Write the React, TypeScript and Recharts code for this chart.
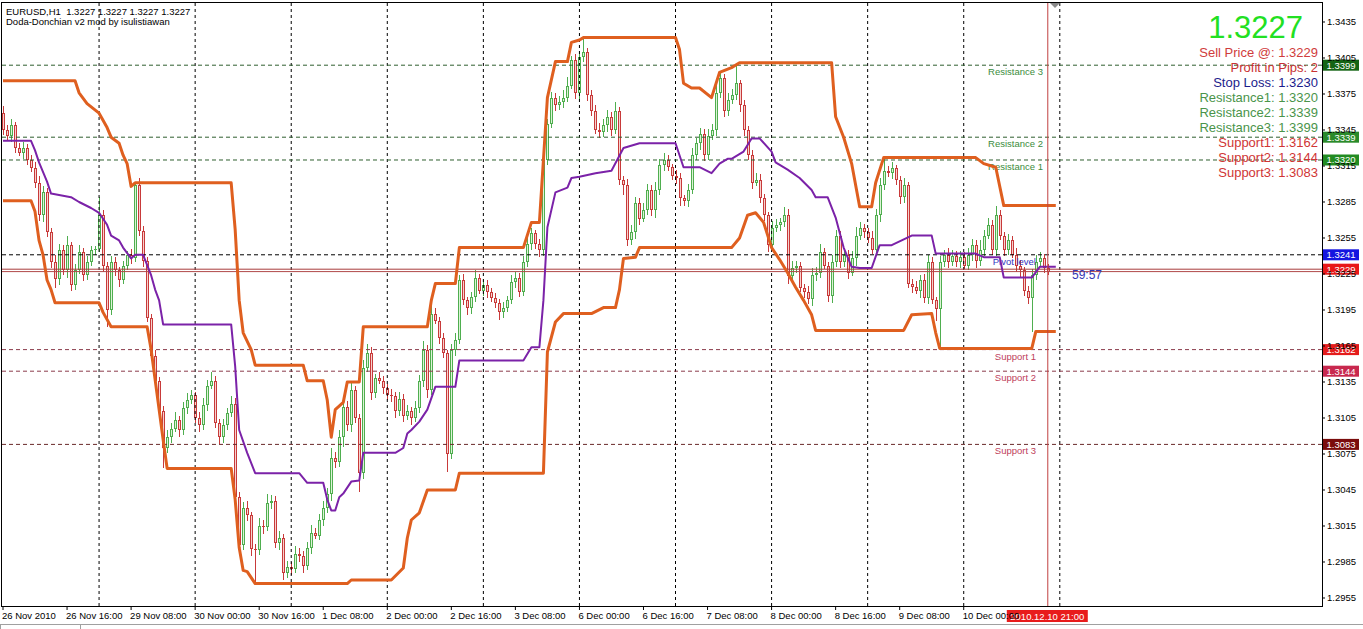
import React from "react";
import { ComposedChart, Bar, Line, XAxis, YAxis, ReferenceLine } from "recharts";

// EURUSD H1, prices in pips (3345 => 1.3345); open of each bar = previous close
const OPEN_FIRST = 3359;
const CLOSES = [
  3345, 3340, 3349, 3330, 3326, 3330, 3320, 3313, 3301, 3274,
  3293, 3260, 3235, 3221, 3245, 3228, 3249, 3216, 3228, 3243,
  3224, 3235, 3245, 3246, 3274, 3232, 3195, 3235, 3228, 3220,
  3232, 3241, 3238, 3299, 3261, 3236, 3188, 3157, 3136, 3111,
  3080, 3089, 3096, 3103, 3095, 3113, 3120, 3124, 3105, 3099,
  3116, 3132, 3136, 3101, 3089, 3099, 3109, 3117, 3039, 2999,
  3030, 3024, 2996, 2995, 3015, 3014, 3034, 3036, 3001, 3005,
  2976, 2981, 2979, 2992, 2990, 2982, 2997, 3009, 3007, 3020,
  3030, 3042, 3072, 3068, 3089, 3114, 3099, 3128, 3105, 3059,
  3147, 3159, 3126, 3138, 3136, 3130, 3124, 3123, 3111, 3121,
  3107, 3111, 3105, 3113, 3136, 3162, 3128, 3192, 3186, 3172,
  3159, 3075, 3162, 3170, 3220, 3203, 3197, 3206, 3222, 3211,
  3216, 3210, 3205, 3201, 3193, 3197, 3203, 3218, 3222, 3210,
  3235, 3250, 3259, 3250, 3245, 3320, 3350, 3372, 3366, 3368,
  3372, 3382, 3403, 3376, 3406, 3410, 3374, 3361, 3345, 3343,
  3349, 3356, 3345, 3361, 3303, 3299, 3253, 3260, 3284, 3271,
  3278, 3295, 3278, 3295, 3316, 3320, 3314, 3307, 3305, 3288,
  3286, 3295, 3324, 3334, 3342, 3324, 3340, 3345, 3376, 3388,
  3361, 3370, 3374, 3384, 3366, 3345, 3324, 3301, 3303, 3288,
  3274, 3249, 3263, 3266, 3268, 3274, 3223, 3230, 3232, 3213,
  3210, 3204, 3224, 3226, 3243, 3232, 3207, 3235, 3257, 3235,
  3241, 3226, 3238, 3257, 3263, 3260, 3255, 3245, 3274, 3299,
  3311, 3309, 3313, 3303, 3289, 3299, 3217, 3214, 3211, 3220,
  3205, 3235, 3203, 3196, 3235, 3241, 3235, 3240, 3235, 3239,
  3232, 3241, 3249, 3236, 3245, 3257, 3266, 3245, 3274, 3257,
  3245, 3253, 3241, 3232, 3228, 3211, 3205, 3224, 3235, 3238,
  3230, 3227,
];
// wick lengths in pips above the body / below the body
const WICK_UP = [
  6, 4, 5, 3, 4, 5, 3, 4, 5, 6, 5, 4, 3, 6, 5, 4, 8, 3, 5, 6,
  4, 5, 3, 2, 15, 4, 3, 5, 4, 3, 4, 3, 5, 2, 6, 4, 3, 4, 5, 3,
  4, 6, 5, 7, 4, 5, 6, 4, 3, 5, 6, 5, 7, 4, 3, 5, 4, 6, 5, 4,
  5, 6, 3, 4, 7, 5, 8, 5, 4, 6, 3, 5, 4, 6, 5, 4, 5, 7, 4, 5,
  6, 5, 8, 5, 6, 7, 5, 8, 4, 3, 6, 8, 5, 4, 5, 4, 3, 5, 4, 6,
  4, 5, 3, 6, 5, 7, 4, 6, 5, 3, 4, 3, 5, 6, 4, 5, 3, 4, 6, 3,
  5, 4, 3, 4, 3, 5, 4, 6, 5, 4, 5, 6, 4, 3, 4, 3, 4, 5, 4, 5,
  6, 7, 4, 5, 5, 12, 3, 4, 5, 6, 5, 6, 4, 7, 3, 4, 5, 6, 5, 4,
  6, 5, 4, 7, 5, 6, 4, 3, 5, 4, 3, 5, 6, 4, 5, 4, 6, 5, 8, 5,
  4, 6, 5, 17, 3, 4, 3, 4, 6, 5, 4, 3, 6, 5, 4, 7, 5, 6, 4, 3,
  4, 5, 6, 5, 7, 4, 3, 6, 5, 4, 5, 4, 6, 7, 5, 4, 3, 6, 5, 6,
  11, 4, 5, 3, 4, 6, 3, 4, 5, 4, 5, 6, 4, 3, 5, 4, 6, 5, 4, 5,
  4, 6, 5, 4, 8, 5, 6, 4, 8, 4, 3, 5, 4, 6, 5, 3, 4, 5, 6, 5,
  4, 3,
];
const WICK_DOWN = [
  4, 3, 5, 4, 3, 5, 4, 3, 4, 5, 6, 4, 5, 8, 5, 4, 6, 5, 4, 3,
  5, 4, 3, 4, 3, 5, 14, 4, 5, 6, 3, 4, 5, 3, 4, 5, 3, 4, 5, 6,
  17, 4, 5, 3, 6, 4, 5, 3, 4, 6, 4, 5, 3, 4, 6, 5, 4, 3, 5, 3,
  4, 5, 6, 28, 4, 6, 3, 5, 4, 6, 6, 4, 5, 3, 5, 6, 4, 5, 3, 4,
  5, 4, 6, 5, 4, 8, 5, 6, 4, 16, 5, 4, 6, 4, 3, 5, 4, 5, 6, 4,
  5, 4, 6, 3, 4, 5, 6, 4, 3, 5, 4, 15, 4, 5, 3, 4, 6, 5, 4, 3,
  4, 5, 3, 4, 6, 5, 4, 3, 5, 4, 3, 4, 5, 4, 6, 5, 4, 3, 5, 4,
  5, 4, 3, 5, 6, 4, 5, 4, 3, 5, 4, 6, 5, 3, 4, 8, 5, 4, 6, 5,
  3, 4, 5, 6, 4, 5, 3, 4, 5, 6, 4, 5, 3, 4, 6, 5, 4, 3, 5, 4,
  5, 4, 3, 4, 6, 5, 4, 5, 3, 4, 5, 6, 4, 3, 5, 4, 6, 5, 4, 3,
  5, 4, 6, 5, 4, 3, 5, 6, 4, 5, 4, 5, 3, 6, 4, 5, 4, 3, 5, 6,
  4, 3, 5, 4, 6, 5, 4, 5, 3, 6, 4, 5, 3, 10, 33, 4, 5, 3, 4, 5,
  3, 4, 5, 6, 4, 5, 3, 4, 5, 4, 5, 4, 3, 5, 6, 4, 5, 28, 4, 3,
  4, 3,
];

// Donchian channel vertices: [bar index, price in pips]
const UPPER_BAND = [
  [0, 3386], [18, 3386], [19, 3376], [21, 3367], [24, 3359], [26, 3347], [27, 3339], [29, 3334],
  [30, 3324], [31, 3317], [32, 3298], [33, 3301], [57, 3301], [58, 3262], [59, 3203], [60, 3176],
  [62, 3162], [63, 3149], [75, 3149], [76, 3136], [80, 3136], [81, 3120], [82, 3089], [83, 3112],
  [85, 3118], [86, 3135], [89, 3135], [90, 3181], [106, 3181], [107, 3203], [108, 3217], [113, 3217],
  [114, 3247], [130, 3247], [132, 3268], [134, 3268], [135, 3320], [136, 3372], [138, 3402], [141, 3402],
  [142, 3418], [144, 3420], [145, 3422], [168, 3422], [169, 3412], [170, 3384], [172, 3380], [174, 3380],
  [177, 3372], [179, 3393], [182, 3397], [184, 3401], [207, 3401], [208, 3356], [210, 3339], [212, 3317],
  [214, 3281], [217, 3281], [218, 3301], [220, 3322], [243, 3322], [245, 3317], [248, 3314], [250, 3282],
  [263, 3282],
];
const LOWER_BAND = [
  [0, 3286], [7, 3286], [8, 3277], [9, 3253], [10, 3241], [11, 3220], [12, 3212], [13, 3201],
  [24, 3201], [25, 3193], [27, 3181], [36, 3181], [37, 3162], [38, 3137], [39, 3112], [40, 3087],
  [41, 3063], [57, 3063], [58, 3037], [59, 2997], [60, 2978], [61, 2977], [63, 2967], [86, 2967],
  [87, 2970], [97, 2970], [100, 2980], [101, 3005], [102, 3020], [104, 3026], [106, 3045], [113, 3045],
  [114, 3059], [135, 3059], [136, 3160], [138, 3185], [140, 3192], [147, 3192], [150, 3197], [153, 3197],
  [154, 3212], [155, 3238], [158, 3239], [159, 3247], [182, 3247], [184, 3255], [186, 3274], [188, 3276],
  [190, 3268], [192, 3247], [194, 3237], [196, 3226], [198, 3214], [200, 3203], [202, 3191], [203, 3178],
  [225, 3178], [227, 3191], [232, 3192], [233, 3176], [234, 3163], [257, 3163], [258, 3177], [263, 3177],
];
const MIDDLE_BAND = [
  [0, 3336], [7, 3336], [8, 3328], [9, 3318], [11, 3302], [12, 3292], [17, 3289], [19, 3285],
  [22, 3280], [24, 3276], [26, 3266], [27, 3257], [29, 3253], [30, 3247], [32, 3238], [33, 3241],
  [35, 3241], [37, 3224], [38, 3212], [39, 3203], [40, 3183], [57, 3183], [58, 3148], [59, 3095],
  [61, 3076], [63, 3059], [74, 3059], [76, 3051], [80, 3051], [81, 3037], [82, 3028], [83, 3028],
  [84, 3039], [85, 3042], [87, 3052], [89, 3053], [90, 3076], [98, 3076], [100, 3080], [101, 3092],
  [102, 3095], [104, 3102], [106, 3112], [108, 3131], [113, 3131], [114, 3153], [130, 3153], [132, 3164],
  [134, 3164], [135, 3203], [136, 3264], [138, 3293], [141, 3297], [142, 3305], [144, 3306], [148, 3309],
  [152, 3311], [155, 3330], [159, 3334], [168, 3334], [170, 3314], [174, 3314], [177, 3309], [179, 3317],
  [181, 3321], [182, 3321], [185, 3327], [187, 3338], [189, 3338], [192, 3327], [193, 3318], [196, 3312],
  [199, 3305], [202, 3295], [203, 3289], [206, 3289], [208, 3272], [210, 3247], [212, 3231], [214, 3230],
  [217, 3230], [219, 3249], [222, 3249], [227, 3257], [232, 3257], [233, 3242], [243, 3242], [245, 3239],
  [249, 3239], [250, 3222], [257, 3222], [259, 3231], [263, 3231],
];

const TIME_TICKS = [0, 16, 32, 48, 64, 80, 96, 112, 128, 144, 160, 176, 192, 208, 224, 240];
const TIME_LABELS = [
  "26 Nov 2010", "26 Nov 16:00", "29 Nov 08:00", "30 Nov 00:00", "30 Nov 16:00", "1 Dec 08:00",
  "2 Dec 00:00", "2 Dec 16:00", "3 Dec 08:00", "6 Dec 00:00", "6 Dec 16:00", "7 Dec 08:00",
  "8 Dec 00:00", "8 Dec 16:00", "9 Dec 08:00", "10 Dec 00:00",
];
const PRICE_TICKS = [
  1.2955, 1.2985, 1.3015, 1.3045, 1.3075, 1.3105, 1.3135, 1.3165, 1.3195,
  1.3225, 1.3255, 1.3285, 1.3315, 1.3345, 1.3375, 1.3405, 1.3435,
];
const GRID_BARS = [24, 48, 72, 96, 120, 144, 168, 192, 216, 240, 264];

const LEVEL_PRICES = [1.3399, 1.3339, 1.332, 1.3241, 1.3162, 1.3144, 1.3083];
const LEVEL_NAMES = ["Resistance 3", "Resistance 2", "Resistance 1", "Pivot level", "Support 1", "Support 2", "Support 3"];
const SELL_PRICE = 1.3229;
const BID_PRICE = 1.3227;
const CURRENT_BAR = 261;
const CURRENT_TIME = "2010.12.10 21:00";

const INFO_LINES = [
  "Sell Price @: 1.3229", "Profit in Pips: 2", "Stop Loss: 1.3230",
  "Resistance1: 1.3320", "Resistance2: 1.3339", "Resistance3: 1.3399",
  "Support1: 1.3162", "Support2: 1.3144", "Support3: 1.3083",
];

const FONT = "'Liberation Sans', Arial, Helvetica, sans-serif";
const SLOTS = 330;
const ORANGE = "#df5f1f";
const PURPLE = "#7b22a8";

const LEVEL_STYLE = [
  { line: "#2f5f2f", text: "#3c8c3c", box: "#146414", end: 1043 },
  { line: "#2f5f2f", text: "#3c8c3c", box: "#2a8a2a", end: 1043 },
  { line: "#2f5f2f", text: "#3c8c3c", box: "#228b22", end: 1043 },
  { line: "#000000", text: "#3434c0", box: "#1515e0", end: 1036 },
  { line: "#8c3c4c", text: "#c0405a", box: "#e41c1c", end: 1036 },
  { line: "#8c3c4c", text: "#c0405a", box: "#c8284e", end: 1036 },
  { line: "#6a2a2a", text: "#c0405a", box: "#7a0c0c", end: 1036 },
];
const INFO_COLORS = [
  "#d03c3c", "#c83232", "#1c1c8c", "#4a944a", "#4a944a", "#4a944a", "#d03535", "#d03535", "#d03535",
];

const toPrice = (v: number) => 1 + v / 10000;

const data: any[] = Array.from({ length: SLOTS }, (_, i) => {
  const row: any = { i };
  if (i < CLOSES.length) {
    const o = toPrice(i === 0 ? OPEN_FIRST : CLOSES[i - 1]);
    const c = toPrice(CLOSES[i]);
    const h = Math.max(o, c) + WICK_UP[i] / 10000;
    const l = Math.min(o, c) - WICK_DOWN[i] / 10000;
    Object.assign(row, { o, c, h, l, range: [l, h] });
  }
  return row;
});
UPPER_BAND.forEach(([i, v]) => (data[i].upper = toPrice(v)));
LOWER_BAND.forEach(([i, v]) => (data[i].lower = toPrice(v)));
MIDDLE_BAND.forEach(([i, v]) => (data[i].middle = toPrice(v)));

function Candle(props: any) {
  const { x, y, width, height, payload } = props;
  if (!payload || payload.h === undefined || !height) return null;
  const { o, c, h, l } = payload;
  const k = height / (h - l);
  const at = (v: number) => y + (h - v) * k;
  const up = c >= o;
  const col = up ? "#4fae4f" : "#c83a3a";
  const fill = up ? "#dcf3d6" : "#f6d2ce";
  const left = Math.round(x + width / 2 - 1.5);
  const top = Math.round(at(Math.max(o, c)));
  const bot = Math.round(at(Math.min(o, c)));
  return (
    <g>
      <line x1={left + 1.5} x2={left + 1.5} y1={Math.round(y)} y2={Math.round(y + height)} stroke={col} />
      {bot - top >= 2 ? (
        <rect x={left + 0.5} y={top + 0.5} width={2} height={bot - top - 1} fill={fill} stroke={col} />
      ) : (
        <line x1={left} x2={left + 3} y1={top + 0.5} y2={top + 0.5} stroke={col} />
      )}
    </g>
  );
}

function TimeTick({ x, y, payload }: any) {
  const idx = TIME_TICKS.indexOf(payload.value);
  return (
    <text x={x - 1} y={y + 7} fontSize={9.5} fontFamily={FONT} fill="#000">
      {TIME_LABELS[idx]}
    </text>
  );
}

function priceBox(vb: any, color: string, value: number) {
  const bx = vb.x + vb.width + 1;
  return (
    <g>
      <rect x={bx} y={vb.y - 5.5} width={36} height={11} fill={color} />
      <text x={bx + 18} y={vb.y + 3.5} textAnchor="middle" fontSize={9.5} fontFamily={FONT} fill="#fff">
        {value.toFixed(4)}
      </text>
    </g>
  );
}

export default function App() {
  return (
    <div style={{ position: "absolute", left: 0, top: 0, width: 1363, height: 629, background: "#fff", overflow: "hidden" }}>
      <ComposedChart
        width={1363}
        height={629}
        data={data}
        margin={{ top: 3, right: 0, bottom: 0, left: 1 }}
        barCategoryGap={0}
        barGap={0}
      >
        <XAxis
          dataKey="i"
          type="category"
          ticks={TIME_TICKS}
          interval={0}
          height={23}
          axisLine={false}
          tickSize={4}
          tickLine={{ stroke: "#000" }}
          tick={<TimeTick />}
        />
        <YAxis
          orientation="right"
          domain={[1.294833, 1.345083]}
          allowDataOverflow
          ticks={PRICE_TICKS}
          interval={0}
          width={41}
          axisLine={false}
          tickSize={3}
          tickMargin={2}
          tickLine={{ stroke: "#000" }}
          tick={{ fontSize: 9.5, fill: "#000", fontFamily: FONT }}
          tickFormatter={(v: number) => v.toFixed(4)}
        />
        {GRID_BARS.map((b) => (
          <ReferenceLine key={"g" + b} x={b} stroke="#000" strokeDasharray="3 3" ifOverflow="extendDomain" />
        ))}
        {LEVEL_PRICES.map((p, k) => (
          <ReferenceLine
            key={"lv" + k}
            y={p}
            stroke={LEVEL_STYLE[k].line}
            strokeDasharray="4 3"
            label={(lp: any) => (
              <g>
                <text
                  x={LEVEL_STYLE[k].end}
                  y={lp.viewBox.y + 10}
                  textAnchor="end"
                  fontSize={9.5}
                  fontFamily={FONT}
                  fill={LEVEL_STYLE[k].text}
                >
                  {LEVEL_NAMES[k]}
                </text>
                {priceBox(lp.viewBox, LEVEL_STYLE[k].box, p)}
              </g>
            )}
          />
        ))}
        <ReferenceLine y={BID_PRICE} stroke="#b04848" />
        <ReferenceLine
          y={SELL_PRICE}
          stroke="#a83c3c"
          label={(lp: any) => priceBox(lp.viewBox, "#e81818", SELL_PRICE)}
        />
        <Bar dataKey="range" barSize={3} isAnimationActive={false} shape={(p: any) => <Candle {...p} />} />
        <Line dataKey="upper" type="linear" stroke={ORANGE} strokeWidth={3} dot={false} connectNulls isAnimationActive={false} strokeLinejoin="round" />
        <Line dataKey="lower" type="linear" stroke={ORANGE} strokeWidth={3} dot={false} connectNulls isAnimationActive={false} strokeLinejoin="round" />
        <Line dataKey="middle" type="linear" stroke={PURPLE} strokeWidth={2} dot={false} connectNulls isAnimationActive={false} strokeLinejoin="round" />
        <ReferenceLine
          x={CURRENT_BAR}
          stroke="#c04040"
          label={(lp: any) => (
            <g>
              <rect x={lp.viewBox.x - 41} y={lp.viewBox.y + lp.viewBox.height + 4} width={81} height={12} fill="#e81c1c" />
              <text
                x={lp.viewBox.x - 0.5}
                y={lp.viewBox.y + lp.viewBox.height + 13.5}
                textAnchor="middle"
                fontSize={9.5}
                fontFamily={FONT}
                fill="#fff"
              >
                {CURRENT_TIME}
              </text>
            </g>
          )}
        />
      </ComposedChart>
      <svg width={1363} height={629} style={{ position: "absolute", left: 0, top: 0, pointerEvents: "none" }}>
        <rect x={1.5} y={2.5} width={1321} height={604} fill="none" stroke="#000" />
        <polygon points="1050,3 1060,3 1055,8" fill="#8a8a8a" />
        <text x={6} y={14.5} fontSize={9.5} fontFamily={FONT} fill="#000" style={{ whiteSpace: "pre" }}>
          {"EURUSD,H1  1.3227 1.3227 1.3227 1.3227"}
        </text>
        <text x={6} y={25} fontSize={9.5} fontFamily={FONT} fill="#000">
          Doda-Donchian v2 mod by isulistiawan
        </text>
        <text x={1303} y={38} textAnchor="end" fontSize={31} fontFamily={FONT} fill="#22e022">
          1.3227
        </text>
        {INFO_LINES.map((t, k) => (
          <text key={t} x={1318} y={57 + k * 15} textAnchor="end" fontSize={13} fontFamily={FONT} fill={INFO_COLORS[k]}>
            {t}
          </text>
        ))}
        <text x={1072} y={279} fontSize={12} fontFamily={FONT} fill="#3434b4">
          59:57
        </text>
        <line x1={0} x2={1363} y1={624.5} y2={624.5} stroke="#a0a0a0" />
        <rect x={0.5} y={624.5} width={80} height={6} fill="#fff" stroke="#a0a0a0" />
      </svg>
    </div>
  );
}
